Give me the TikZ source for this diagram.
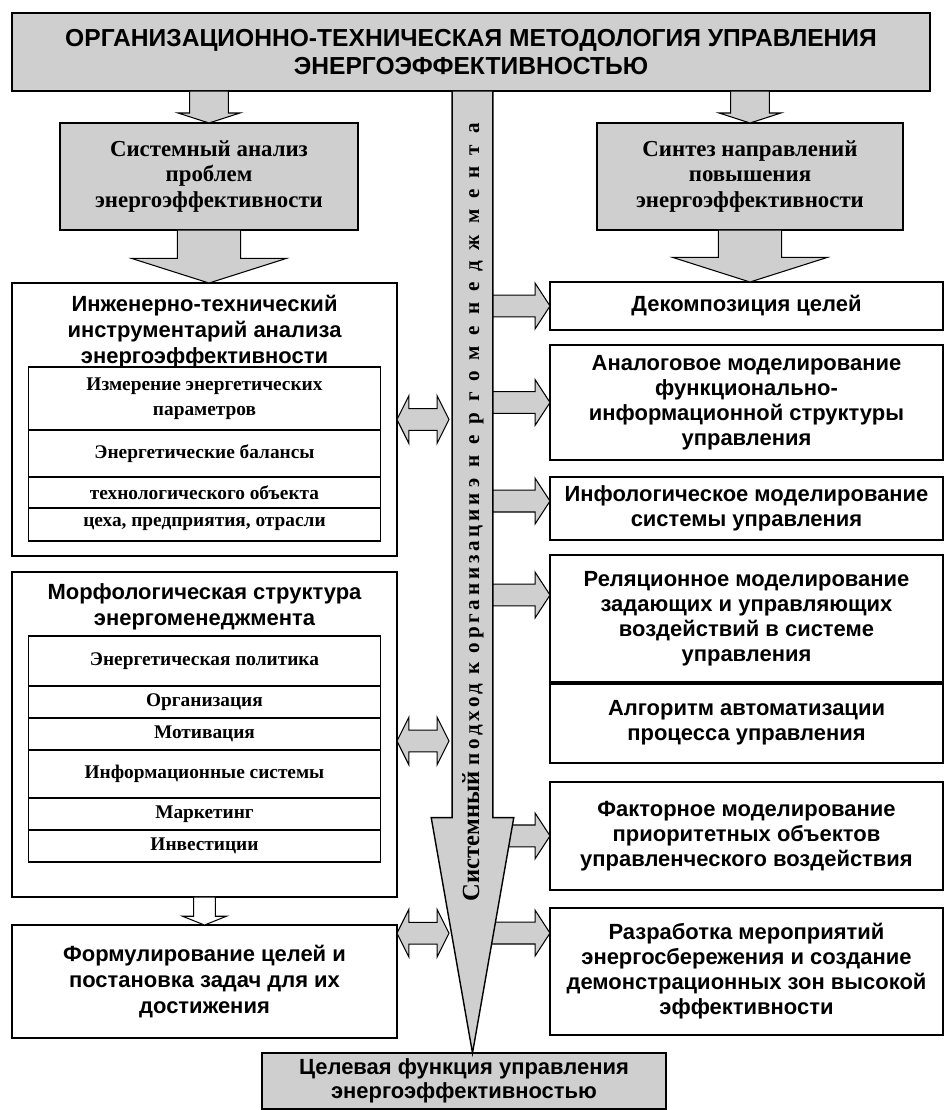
\documentclass[tikz,border=0pt]{standalone}
\usepackage{fontspec}
\setmainfont{Liberation Serif}
\setsansfont{Liberation Sans}
\usetikzlibrary{positioning,calc}

\tikzset{
  box/.style={draw, line width=0.8pt, outer sep=0pt, inner sep=2pt, align=center},
  gbox/.style={box, fill=gray!38, font=\bfseries\fontsize{13}{14.5}\selectfont},
  rbox/.style={box, minimum width=7.86cm, font=\sffamily\bfseries\fontsize{12.5}{14.2}\selectfont},
  lbox/.style={box, minimum width=7.7cm},
  cell/.style={box, minimum width=7.04cm, fill=white, font=\bfseries\fontsize{11}{14}\selectfont},
  ttl/.style={align=center, font=\sffamily\bfseries\fontsize{12.5}{14.8}\selectfont},
  darr/.style n args={3}{draw, line width=0.6pt, to path={let \p1=(\tikztostart), \p2=(\tikztotarget) in
    (\x1-#1,\y1) -- (\x1-#1,\y2+#3) -- (\x1-#2,\y2+#3) -- (\x1,\y2) -- (\x1+#2,\y2+#3) -- (\x1+#1,\y2+#3) -- (\x1+#1,\y1) -- cycle}},
  rarr/.style={draw, line width=0.6pt, fill=gray!38, to path={let \p1=(\tikztostart), \p2=(\tikztotarget) in
    (\x1,\y1+6.2pt) -- (\x2-8.5pt,\y1+6.2pt) -- (\x2-8.5pt,\y1+13pt) -- (\x2,\y1) -- (\x2-8.5pt,\y1-13pt) -- (\x2-8.5pt,\y1-6.2pt) -- (\x1,\y1-6.2pt) -- cycle}},
  lrarr/.style={draw, line width=0.6pt, fill=gray!38, to path={let \p1=(\tikztostart), \p2=(\tikztotarget) in
    (\x1,\y1) -- (\x1+6.8pt,\y1+13.6pt) -- (\x1+6.8pt,\y1+6.2pt) -- (\x2-6.8pt,\y1+6.2pt) -- (\x2-6.8pt,\y1+13.6pt) -- (\x2,\y1)
    -- (\x2-6.8pt,\y1-13.6pt) -- (\x2-6.8pt,\y1-6.2pt) -- (\x1+6.8pt,\y1-6.2pt) -- (\x1+6.8pt,\y1-13.6pt) -- cycle}},
  spine/.style={draw, line width=0.8pt, fill=gray!38, to path={let \p1=(\tikztostart), \p2=(\tikztotarget) in
    (\x1-11.6pt,\y1) -- (\x1-11.6pt,\y2+134pt) -- (\x1-23.5pt,\y2+134pt) -- (\x1,\y2) -- (\x1+23.5pt,\y2+134pt)
    -- (\x1+11.6pt,\y2+134pt) -- (\x1+11.6pt,\y1) -- cycle}}
}

\begin{document}
\begin{tikzpicture}[x=0.02cm, y=-0.02cm]
\useasboundingbox (0,0) rectangle (944,1110);

\node[gbox, minimum width=18.36cm, minimum height=1.56cm, font=\sffamily\bfseries\fontsize{14}{16}\selectfont] (banner) at (471,52)
  {ОРГАНИЗАЦИОННО-ТЕХНИЧЕСКАЯ МЕТОДОЛОГИЯ УПРАВЛЕНИЯ\\ЭНЕРГОЭФФЕКТИВНОСТЬЮ};
\node[gbox, minimum width=5.96cm, minimum height=2.14cm] (lgray) at (209,176.5) {Системный анализ\\проблем\\энергоэффективности};
\node[gbox, minimum width=6.12cm, minimum height=2.14cm] (rgray) at (750,176.5) {Синтез направлений\\повышения\\энергоэффективности};
\node[gbox, minimum width=8.08cm, minimum height=1.12cm, font=\sffamily\bfseries\fontsize{12.5}{14}\selectfont] (goal) at (464,1081)
  {Целевая функция управления\\энергоэффективностью};
\coordinate (sp) at (472.5,0);
\coordinate (spl) at (449,0);

\node[lbox, minimum height=5.46cm] (ing) at (204.5,419.5) {};
\node[ttl] (ingt) at (204.5,331.5) {Инженерно-технический\\инструментарий анализа\\энергоэффективности};
\node[cell, minimum height=1.26cm, anchor=north] (r1) at (204.5,367) {Измерение энергетических\\параметров};
\node[cell, minimum height=0.94cm, below=0pt of r1] (r2) {Энергетические балансы};
\node[cell, minimum height=0.62cm, below=0pt of r2] (r3) {технологического объекта};
\node[cell, minimum height=0.66cm, below=0pt of r3] (r4) {цеха, предприятия, отрасли};

\node[lbox, minimum height=6.5cm] (morph) at (204.5,734.5) {};
\node[ttl] (morpht) at (204.5,606.5) {Морфологическая структура\\энергоменеджмента};
\node[cell, minimum height=1.0cm, anchor=north] (m1) at (204.5,636) {Энергетическая политика};
\node[cell, minimum height=0.64cm, below=0pt of m1] (m2) {Организация};
\node[cell, minimum height=0.64cm, below=0pt of m2] (m3) {Мотивация};
\node[cell, minimum height=0.96cm, below=0pt of m3] (m4) {Информационные системы};
\node[cell, minimum height=0.64cm, below=0pt of m4] (m5) {Маркетинг};
\node[cell, minimum height=0.64cm, below=0pt of m5] (m6) {Инвестиции};

\node[lbox, minimum height=2.26cm, font=\sffamily\bfseries\fontsize{12.5}{14.8}\selectfont] (form) at (204.5,981.5)
  {Формулирование целей и\\постановка задач для их\\достижения};

\node[rbox, minimum height=0.96cm] (dec) at (746.5,306) {Декомпозиция целей};
\node[rbox, minimum height=2.3cm, below=0.3cm of dec] (ana) {Аналоговое моделирование\\функционально-\\информационной структуры\\управления};
\node[rbox, minimum height=1.26cm, below=0.34cm of ana] (inf) {Инфологическое моделирование\\системы управления};
\node[rbox, minimum height=2.56cm, below=0.3cm of inf] (rel) {Реляционное моделирование\\задающих и управляющих\\воздействий в системе\\управления};
\node[rbox, minimum height=1.6cm, below=0pt of rel] (alg) {Алгоритм автоматизации\\процесса управления};
\node[rbox, minimum height=2.16cm, below=0.38cm of alg] (fac) {Факторное моделирование\\приоритетных объектов\\управленческого воздействия};
\node[rbox, minimum height=2.54cm, below=0.36cm of fac] (raz) {Разработка мероприятий\\энергосбережения и создание\\демонстрационных зон высокой\\эффективности};
\draw[line width=2pt] (rel.south west) -- (rel.south east);

\draw[darr={11pt}{17.6pt}{5.7pt}, fill=gray!38] (banner.south -| lgray.north) to (lgray.north);
\draw[darr={11pt}{17.6pt}{5.7pt}, fill=gray!38] (banner.south -| rgray.north) to (rgray.north);
\draw[darr={18pt}{44pt}{14pt}, fill=gray!38] (lgray.south) to (ing.north);
\draw[darr={18pt}{44pt}{14pt}, fill=gray!38] (rgray.south) to (dec.north -| rgray.south);
\draw[darr={6.2pt}{12.5pt}{5pt}, fill=white] (morph.south) to (form.north);

\draw[rarr] (sp |- dec.west) to (dec.west);
\draw[rarr] (sp |- ana.west) to (ana.west);
\draw[rarr] ([yshift=4.2pt]sp |- inf.west) to ([yshift=4.2pt]inf.west);
\draw[rarr] ([yshift=13.6pt]sp |- rel.west) to ([yshift=13.6pt]rel.west);
\draw[rarr] (sp |- fac.west) to (fac.west);
\draw[rarr] ([yshift=21.8pt]sp |- raz.west) to ([yshift=21.8pt]raz.west);

\draw[lrarr] (ing.east) to (spl |- ing.east);
\draw[lrarr] ([yshift=-3.7pt]morph.east) to ([yshift=-3.7pt]spl |- morph.east);
\draw[lrarr] ([yshift=27.5pt]form.east) to ([yshift=27.5pt]spl |- form.east);

\draw[spine] (banner.south -| sp) to (goal.north -| sp);
\node[rotate=90, font=\bfseries\fontsize{12}{12}\selectfont] (ctext) at (473,512)
  {{\fontsize{14}{14}\selectfont Системный} {\addfontfeature{LetterSpace=18}подход к организации} {\addfontfeature{LetterSpace=52}энергоменеджмента}};

\end{tikzpicture}
\end{document}
